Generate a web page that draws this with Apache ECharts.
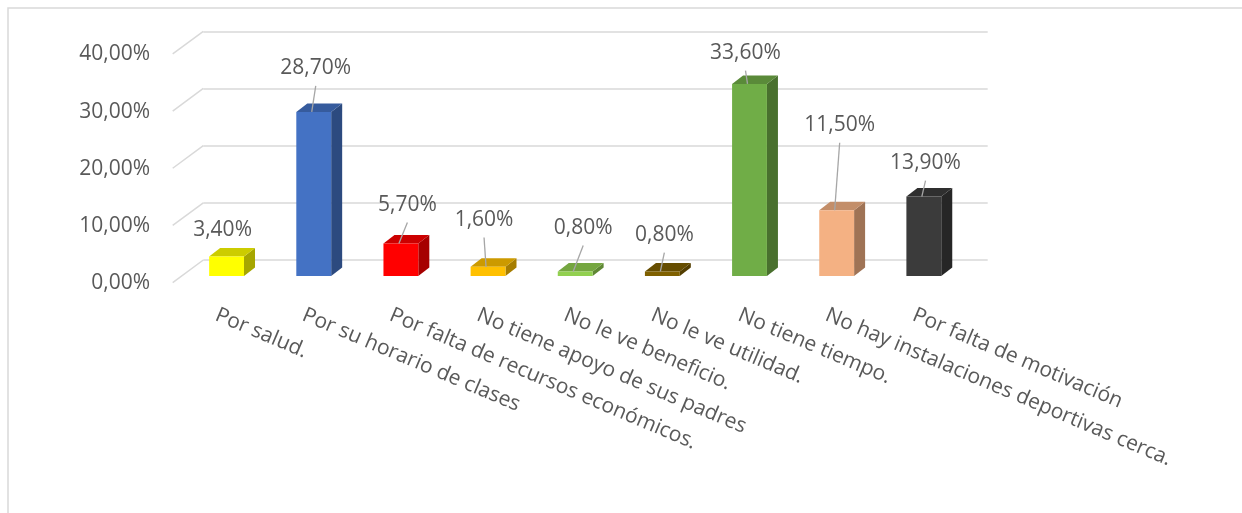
<!DOCTYPE html>
<html><head><meta charset="utf-8">
<script src="https://cdn.jsdelivr.net/npm/echarts@6/dist/echarts.min.js"></script>
<style>html,body{margin:0;padding:0;background:#fff}#c{width:1242px;height:513px}</style>
</head><body><div id="c"></div>
<script>
const categories = ['Por salud.', 'Por su horario de clases', 'Por falta de recursos económicos.', 'No tiene apoyo de sus padres', 'No le ve beneficio.', 'No le ve utilidad.', 'No tiene tiempo.', 'No hay instalaciones deportivas cerca.', 'Por falta de motivación'];
const values = [3.4, 28.7, 5.7, 1.6, 0.8, 0.8, 33.6, 11.5, 13.9];
const yTicks = [0, 10, 20, 30, 40];
const barColors = ['#FFFF00', '#4472C4', '#FF0000', '#FFC000', '#92D050', '#7F6000', '#70AD47', '#F4B183', '#3B3B3B'];
// label placement (layout offsets in px, relative to the top of each bar)
const labelLift = [26.7, 43.5, 38.4, 46.8, 43.4, 36.4, 30.8, 85, 33.4];
const labelNudge = [-4, 2, 6.5, -4, 8, 2, -4, 3, 1.7];

const FONT = '"Open Sans", "Noto Sans", sans-serif';
const FS = 21;
const TXT = '#595959';
const GRIDC = '#D9D9D9';
const DEPTH = [11, -8.5];       // bar depth (3D look)
const WALL = [-30.6, 22.6];     // side-wall depth vector

function fmt(v) { return v.toFixed(2).replace('.', ',') + '%'; }
function shade(hex, f) {
  const n = parseInt(hex.slice(1), 16);
  const r = Math.round(((n >> 16) & 255) * f), g = Math.round(((n >> 8) & 255) * f), b = Math.round((n & 255) * f);
  return 'rgb(' + r + ',' + g + ',' + b + ')';
}

function renderBar(params, api) {
  const i = api.value(0), v = api.value(1);
  const base = api.coord([i, 0]), top = api.coord([i, v]);
  const w = api.size([1, 0])[0] * 0.4;
  const x0 = base[0] - w / 2, x1 = base[0] + w / 2, yb = base[1], yt = top[1];
  const dx = DEPTH[0], dy = DEPTH[1];
  const c = barColors[i];
  return { type: 'group', children: [
    { type: 'polygon', shape: { points: [[x1, yt], [x1 + dx, yt + dy], [x1 + dx, yb + dy], [x1, yb]] }, style: { fill: shade(c, 0.65) } },
    { type: 'polygon', shape: { points: [[x0, yt], [x1, yt], [x1 + dx, yt + dy], [x0 + dx, yt + dy]] }, style: { fill: shade(c, 0.8) } },
    { type: 'rect', shape: { x: x0, y: yt, width: w, height: yb - yt }, style: { fill: c } }
  ] };
}

function renderLabel(params, api) {
  const i = api.value(0), v = api.value(1);
  const top = api.coord([i, v]);
  const lx = top[0] + labelNudge[i], ly = top[1] - labelLift[i];
  const children = [];
  if (labelLift[i] > 30) {
    children.push({ type: 'line', shape: { x1: lx, y1: ly + 17.5, x2: top[0] - 2, y2: top[1] }, style: { stroke: '#A6A6A6', lineWidth: 1.3 } });
  }
  children.push({ type: 'text', style: { text: fmt(v), x: lx, y: ly, align: 'center', verticalAlign: 'middle', font: FS + 'px ' + FONT, fill: TXT } });
  return { type: 'group', children: children };
}

function renderWall(params, api) {
  const y = api.coord([0, api.value(1)])[1];
  const x = params.coordSys.x;
  return { type: 'line', shape: { x1: x, y1: y, x2: x + WALL[0], y2: y + WALL[1] }, style: { stroke: GRIDC, lineWidth: 1.5 } };
}

const chart = echarts.init(document.getElementById('c'), null, { renderer: 'canvas' });
chart.setOption({
  animation: false,
  backgroundColor: '#fff',
  graphic: [{ type: 'rect', shape: { x: 8, y: 8, width: 1260, height: 540 }, style: { fill: 'none', stroke: GRIDC, lineWidth: 1.5 }, silent: true, z: -10 }],
  grid: [
    { left: 203.3, top: 31.3, width: 784.4, height: 228.7 },   // back wall
    { left: 183, top: 47.3, width: 784.4, height: 228.7 },     // bar front plane
    { left: 172.7, top: 54.5, width: 784.4, height: 228.7 }    // floor front edge (axis labels)
  ],
  xAxis: [
    { gridIndex: 0, type: 'category', data: categories, show: false },
    { gridIndex: 1, type: 'category', data: categories, show: false },
    { gridIndex: 2, type: 'category', data: categories, axisLine: { show: false }, axisTick: { show: false },
      axisLabel: { interval: 0, rotate: -23, margin: 31, fontSize: FS, fontFamily: FONT, color: TXT } }
  ],
  yAxis: [
    { gridIndex: 0, type: 'value', min: 0, max: 40, interval: 10, axisLabel: { show: false }, axisLine: { show: false }, axisTick: { show: false },
      splitLine: { show: true, lineStyle: { color: GRIDC, width: 1.5 } } },
    { gridIndex: 1, type: 'value', min: 0, max: 40, interval: 10, show: false },
    { gridIndex: 2, type: 'value', min: 0, max: 40, interval: 10, axisLine: { show: false }, axisTick: { show: false }, splitLine: { show: false },
      axisLabel: { margin: 22.7, fontSize: FS, fontFamily: FONT, color: TXT, formatter: fmt } }
  ],
  series: [
    { type: 'custom', xAxisIndex: 0, yAxisIndex: 0, z: 1, silent: true, data: yTicks.map(function (t) { return [0, t]; }), renderItem: renderWall },
    { type: 'custom', xAxisIndex: 1, yAxisIndex: 1, z: 2, data: values.map(function (v, i) { return [i, v]; }), renderItem: renderBar },
    { type: 'custom', xAxisIndex: 1, yAxisIndex: 1, z: 3, data: values.map(function (v, i) { return [i, v]; }), renderItem: renderLabel }
  ]
});
</script>
</body></html>
